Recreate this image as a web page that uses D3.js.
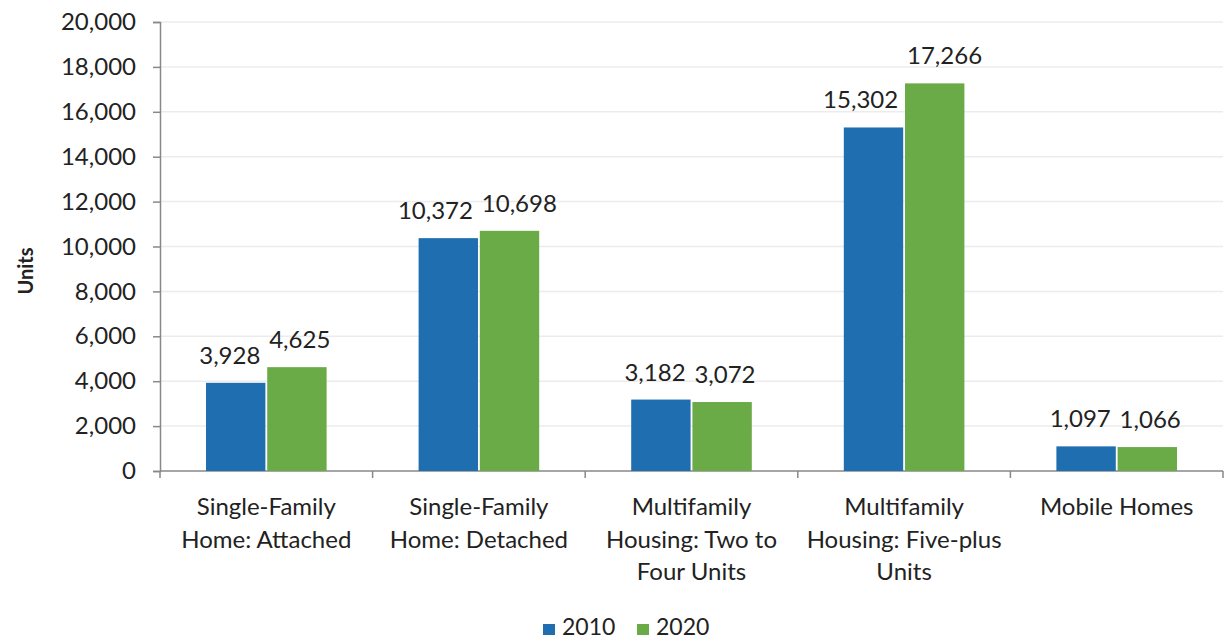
<!DOCTYPE html>
<html><head><meta charset="utf-8">
<script src="https://cdn.jsdelivr.net/npm/d3@7/dist/d3.min.js"></script>
<style>body{margin:0;background:#fff}svg{display:block}text{font-family:Lato,"Open Sans",sans-serif;fill:#222}</style>
</head><body><svg id="c" width="1225" height="640"></svg>
<script>
const categories = ["Single-Family\nHome: Attached","Single-Family\nHome: Detached","Multifamily\nHousing: Two to\nFour Units","Multifamily\nHousing: Five-plus\nUnits","Mobile Homes"];
const seriesNames = ["2010","2020"];
const values2010 = [3928,10372,3182,15302,1097];
const values2020 = [4625,10698,3072,17266,1066];
const yTicks = [0,2000,4000,6000,8000,10000,12000,14000,16000,18000,20000];
const colors = ["#1f6eb0","#6aab47"];

const svg = d3.select("#c");
const x0 = d3.scaleBand().domain(categories).range([160,1223]).paddingInner(0).paddingOuter(0);
const y = d3.scaleLinear().domain([0,20000]).range([471,22]);
const groupPad = 46;
const x1 = d3.scaleBand().domain(seriesNames).range([groupPad, x0.bandwidth()-groupPad]).paddingInner(0.03);
const fmt = d3.format(",");

// gridlines
svg.append("g").selectAll("line").data(yTicks.slice(1)).join("line")
  .attr("x1",161).attr("x2",1223).attr("y1",d=>y(d)).attr("y2",d=>y(d))
  .attr("stroke","#ececec").attr("stroke-width",1.5);

// y axis
const ya = svg.append("g").attr("transform","translate(160,0)")
  .call(d3.axisLeft(y).tickValues(yTicks).tickFormat(fmt).tickSize(7).tickPadding(17));
ya.select(".domain").attr("stroke","#888").attr("stroke-width",1.5);
ya.selectAll(".tick line").attr("stroke","#888").attr("stroke-width",1.5);
ya.selectAll(".tick text").style("font-size","24px").style("font-family","Lato").attr("fill","#222");

// x axis
const xa = svg.append("g").attr("transform","translate(0,471)");
xa.append("line").attr("x1",160).attr("x2",1223).attr("stroke","#888").attr("stroke-width",1.5);
const bounds = categories.map(c=>x0(c)).concat([x0.range()[1]]);
xa.selectAll("line.t").data(bounds).join("line").attr("class","t")
  .attr("x1",d=>d).attr("x2",d=>d).attr("y1",0).attr("y2",7).attr("stroke","#888").attr("stroke-width",1.5);
const lab = xa.selectAll("text.cat").data(categories).join("text").attr("class","cat")
  .attr("text-anchor","middle").attr("x",d=>x0(d)+x0.bandwidth()/2)
  .style("font-size","24px");
lab.each(function(d){
  const t=d3.select(this);
  d.split("\n").forEach((s,i)=>t.append("tspan").attr("x",x0(d)+x0.bandwidth()/2).attr("y",44+i*32.5).text(s));
});

// bars
const data = categories.map((c,i)=>({c, vals:[{s:"2010",v:values2010[i]},{s:"2020",v:values2020[i]}]}));
const g = svg.append("g").selectAll("g").data(data).join("g").attr("transform",d=>`translate(${x0(d.c)},0)`);
g.selectAll("rect").data(d=>d.vals).join("rect")
  .attr("x",d=>x1(d.s)).attr("width",x1.bandwidth())
  .attr("y",d=>y(d.v)).attr("height",d=>y(0)-y(d.v))
  .attr("fill",(d,i)=>colors[i]);
// labels: first series right-aligned near its bar's right edge, second left-aligned at its bar's left edge
g.selectAll("text").data(d=>d.vals).join("text")
  .attr("x",(d,i)=> i===0 ? x1(d.s)+x1.bandwidth()-5 : x1(d.s)+2)
  .attr("y",d=>y(d.v)-19)
  .attr("text-anchor",(d,i)=> i===0 ? "end" : "start")
  .style("font-size","24px").text(d=>fmt(d.v));

// y label
svg.append("text").attr("transform","translate(33,271) rotate(-90)").attr("text-anchor","middle")
  .style("font-size","20px").style("font-weight","bold").text("Units");

// legend
const leg = svg.append("g");
const legX = [543,637];
seriesNames.forEach((s,i)=>{
  leg.append("rect").attr("x",legX[i]).attr("y",624).attr("width",12).attr("height",11).attr("fill",colors[i]);
  leg.append("text").attr("x",legX[i]+19).attr("y",635).style("font-size","23px").text(s);
});
</script></body></html>
